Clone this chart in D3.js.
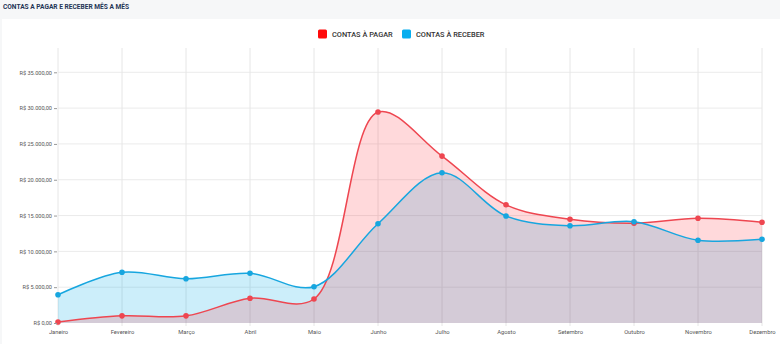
<!DOCTYPE html>
<html><head><meta charset="utf-8">
<script src="https://cdn.jsdelivr.net/npm/d3@7"></script>
<style>
html,body{margin:0;padding:0;background:#f6f7f8;}
svg{display:block;font-family:Roboto,"Noto Sans",sans-serif;}
</style></head>
<body>
<svg id="c" width="780" height="344"></svg>
<script>
const months = ["Janeiro","Fevereiro","Março","Abril","Maio","Junho","Julho","Agosto","Setembro","Outubro","Novembro","Dezembro"];
const contasPagar = [150, 1000, 1000, 3450, 3350, 29450, 23300, 16500, 14480, 13920, 14620, 14060];
const contasReceber = [3950, 7080, 6180, 6940, 5070, 13860, 20980, 14940, 13580, 14140, 11550, 11690];
const yTicks = [0, 5000, 10000, 15000, 20000, 25000, 30000, 35000];
const seriesNames = ["CONTAS À PAGAR", "CONTAS À RECEBER"];
const titleText = "CONTAS A PAGAR E RECEBER MÊS A MÊS";

const svg = d3.select("#c");
// card
svg.append("rect").attr("x",2).attr("y",19).attr("width",778).attr("height",325).attr("fill","#fff");
svg.append("text").attr("x",3).attr("y",8.8).attr("font-size",6.6).attr("font-weight",700)
  .attr("fill","#1f3556").text(titleText);

const L = 58, R = 762, T = 48, B = 323;
const x = d3.scalePoint().domain(months).range([L, R]);
const y = d3.scaleLinear().domain([0, 35000]).range([B, 72.3]);

const g = svg.append("g");
// horizontal grid
g.selectAll("line.h").data(yTicks.slice(1)).join("line")
  .attr("x1",L).attr("x2",R).attr("y1",d=>y(d)).attr("y2",d=>y(d))
  .attr("stroke","#ebebeb").attr("stroke-width",1);
// vertical grid
g.selectAll("line.v").data(months).join("line")
  .attr("x1",d=>x(d)).attr("x2",d=>x(d)).attr("y1",T).attr("y2",B+3)
  .attr("stroke","#e6e6e6").attr("stroke-width",1);

const curve = d3.curveCatmullRom.alpha(0.5);
const area = d3.area().x((d,i)=>x(months[i])).y0(B).y1(d=>y(d)).curve(curve);
const line = d3.line().x((d,i)=>x(months[i])).y(d=>y(d)).curve(curve);

const colors = {pagar:"#ee4650", receber:"#17a6df"};
g.append("path").attr("d",area(contasReceber)).attr("fill","rgba(0,168,232,0.2)");
g.append("path").attr("d",area(contasPagar)).attr("fill","rgba(255,30,40,0.17)");

g.append("path").attr("d",line(contasPagar)).attr("fill","none").attr("stroke",colors.pagar).attr("stroke-width",1.5);
g.append("path").attr("d",line(contasReceber)).attr("fill","none").attr("stroke",colors.receber).attr("stroke-width",1.5);

g.selectAll("circle.p").data(contasPagar).join("circle")
  .attr("cx",(d,i)=>x(months[i])).attr("cy",d=>y(d)).attr("r",2.8).attr("fill",colors.pagar);
g.selectAll("circle.r").data(contasReceber).join("circle")
  .attr("cx",(d,i)=>x(months[i])).attr("cy",d=>y(d)).attr("r",2.8).attr("fill",colors.receber);

// axes
const fmt = v => "R$ " + (v===0 ? "0,00" : d3.format(",")(v).replace(/,/g,".") + ",00");
const yAxis = d3.axisLeft(y).tickValues(yTicks).tickSize(3).tickPadding(2).tickFormat(fmt);
const ya = svg.append("g").attr("transform",`translate(${L-1},0)`).call(yAxis);
ya.select(".domain").remove();
ya.selectAll("line").attr("stroke","#999");
ya.selectAll("text").attr("font-size",5.6).attr("fill","#555").attr("font-family","Roboto,sans-serif");

const xAxis = d3.axisBottom(x).tickSize(0).tickPadding(7);
const xa = svg.append("g").attr("transform",`translate(0,${B})`).call(xAxis);
xa.select(".domain").remove();
xa.selectAll("text").attr("font-size",5.8).attr("fill","#555").attr("font-family","Roboto,sans-serif");

// legend
const lg = svg.append("g");
const leg = [{n:seriesNames[0],c:"#ff0a0a",x:318},{n:seriesNames[1],c:"#07aeef",x:402}];
leg.forEach(d=>{
  lg.append("rect").attr("x",d.x).attr("y",29.5).attr("width",9).attr("height",9).attr("rx",1.5).attr("fill",d.c);
  lg.append("text").attr("x",d.x+14).attr("y",36.8).attr("font-size",7.4).attr("font-weight",500)
    .attr("fill","#333").text(d.n);
});
</script>
</body></html>
